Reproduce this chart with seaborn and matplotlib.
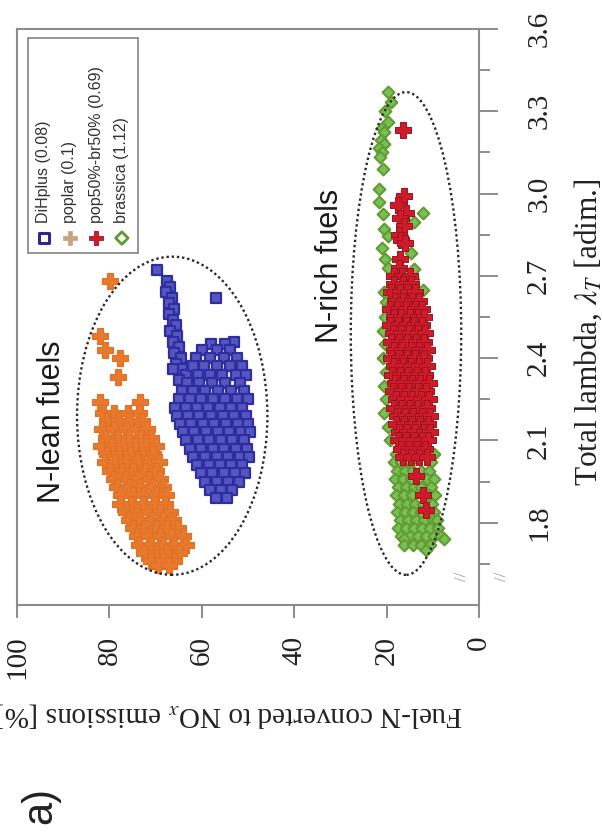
import matplotlib
matplotlib.use("Agg")
import matplotlib.pyplot as plt
from matplotlib.patches import Ellipse, Rectangle
import pandas as pd
import seaborn as sns

# ---------------- data: (total lambda [-], fuel-N converted to NOx [%]) ----------------
dihplus = [
    (2.72, 69.6), (2.62, 57.0), (2.46, 53.1),
    (2.68, 67.5), (2.66, 66.8), (2.64, 67.8), (2.62, 66.5), (2.60, 67.2), (2.58, 66.0),
    (2.56, 67.0), (2.54, 66.3), (2.52, 65.6), (2.50, 66.8), (2.48, 65.4), (2.46, 66.2),
    (2.44, 65.0), (2.42, 66.0), (2.40, 64.6), (2.38, 65.5), (2.36, 64.2), (2.34, 63.5),
    (2.36, 66.3), (2.32, 65.0),
    (2.45, 58.0), (2.45, 55.0),
    (2.43, 60.0), (2.43, 56.8), (2.43, 53.8),
    (2.40, 61.2), (2.40, 58.2), (2.40, 55.2), (2.40, 52.4),
    (2.37, 62.0), (2.37, 59.5), (2.37, 56.8), (2.37, 53.8), (2.37, 51.2),
    (2.34, 60.8), (2.34, 58.3), (2.34, 55.6), (2.34, 52.6), (2.34, 50.4),
    (2.31, 63.2), (2.31, 60.6), (2.31, 57.8), (2.31, 55.0), (2.31, 51.8),
    (2.28, 64.3), (2.28, 62.0), (2.28, 59.2), (2.28, 56.5), (2.28, 53.6), (2.28, 50.8),
    (2.25, 65.0), (2.25, 62.6), (2.25, 60.2), (2.25, 57.6), (2.25, 55.0), (2.25, 52.4), (2.25, 50.0),
    (2.22, 65.8), (2.22, 63.4), (2.22, 61.0), (2.22, 58.6), (2.22, 56.0), (2.22, 53.6), (2.22, 51.2),
    (2.19, 65.3), (2.19, 62.9), (2.19, 60.5), (2.19, 58.0), (2.19, 55.5), (2.19, 53.0), (2.19, 50.5),
    (2.16, 64.8), (2.16, 62.3), (2.16, 59.8), (2.16, 57.3), (2.16, 54.8), (2.16, 52.2), (2.16, 49.9),
    (2.13, 64.1), (2.13, 61.6), (2.13, 59.1), (2.13, 56.6), (2.13, 54.1), (2.13, 51.6), (2.13, 49.6),
    (2.10, 63.4), (2.10, 60.9), (2.10, 58.4), (2.10, 55.9), (2.10, 53.4), (2.10, 50.9),
    (2.07, 62.6), (2.07, 60.1), (2.07, 57.6), (2.07, 55.1), (2.07, 52.6), (2.07, 50.2),
    (2.04, 61.8), (2.04, 59.3), (2.04, 56.8), (2.04, 54.3), (2.04, 51.8), (2.04, 49.8),
    (2.01, 61.0), (2.01, 58.5), (2.01, 56.0), (2.01, 53.6), (2.01, 51.2),
    (1.98, 60.2), (1.98, 57.7), (1.98, 55.2), (1.98, 52.8), (1.98, 50.6),
    (1.95, 59.2), (1.95, 56.8), (1.95, 54.3), (1.95, 52.0),
    (1.92, 58.2), (1.92, 55.8), (1.92, 53.4),
    (1.89, 57.0), (1.89, 54.5),
]

poplar = [
    (2.68, 79.8), (2.48, 82.0), (2.43, 80.9), (2.40, 77.7), (2.33, 78.1),
    (2.24, 82.0), (2.24, 73.3), (2.20, 81.3),
    (2.20, 79.0), (2.20, 76.0), (2.20, 73.5),
    (2.17, 80.5), (2.17, 78.0), (2.17, 75.5), (2.17, 73.0),
    (2.14, 81.5), (2.14, 79.0), (2.14, 76.5), (2.14, 74.0), (2.14, 71.8),
    (2.11, 80.8), (2.11, 78.2), (2.11, 75.8), (2.11, 73.2), (2.11, 71.0),
    (2.08, 81.8), (2.08, 79.5), (2.08, 77.0), (2.08, 74.5), (2.08, 72.0), (2.08, 70.0),
    (2.05, 80.5), (2.05, 78.0), (2.05, 75.5), (2.05, 73.0), (2.05, 70.5),
    (2.02, 81.0), (2.02, 78.8), (2.02, 76.3), (2.02, 73.8), (2.02, 71.3), (2.02, 69.2),
    (1.99, 79.8), (1.99, 77.3), (1.99, 74.8), (1.99, 72.3), (1.99, 70.0),
    (1.96, 79.0), (1.96, 76.5), (1.96, 74.0), (1.96, 71.5), (1.96, 69.0),
    (1.93, 78.3), (1.93, 75.8), (1.93, 73.3), (1.93, 70.8), (1.93, 68.5),
    (1.90, 77.5), (1.90, 75.0), (1.90, 72.5), (1.90, 70.0), (1.90, 67.8),
    (1.87, 77.8), (1.87, 75.3), (1.87, 72.8), (1.87, 70.3), (1.87, 68.0),
    (1.84, 76.5), (1.84, 74.0), (1.84, 71.5), (1.84, 69.0), (1.84, 66.8),
    (1.81, 75.8), (1.81, 73.3), (1.81, 70.8), (1.81, 68.3), (1.81, 66.3),
    (1.78, 75.0), (1.78, 72.5), (1.78, 70.0), (1.78, 67.5), (1.78, 65.2),
    (1.75, 74.0), (1.75, 71.5), (1.75, 69.0), (1.75, 66.5), (1.75, 64.0),
    (1.72, 73.5), (1.72, 71.0), (1.72, 68.5), (1.72, 66.0), (1.72, 63.5),
    (1.69, 72.5), (1.69, 70.0), (1.69, 67.5), (1.69, 65.0),
    (1.66, 71.0), (1.66, 68.5), (1.66, 66.0),
    (1.645, 69.5), (1.645, 67.0),
]

pop50_br50 = [
    (3.23, 16.5),
    (2.99, 16.3), (2.96, 17.5), (2.93, 15.9), (2.91, 17.0), (2.88, 16.2), (2.85, 17.3),
    (2.83, 16.9), (2.82, 16.1), (2.76, 17.0), (2.73, 17.4),
    (2.70, 18.3), (2.70, 16.6), (2.70, 15.0),
    (2.67, 18.5), (2.67, 16.5), (2.67, 14.8),
    (2.64, 19.0), (2.64, 17.2), (2.64, 15.3), (2.64, 13.8),
    (2.61, 18.2), (2.61, 16.4), (2.61, 14.5), (2.61, 12.9),
    (2.58, 19.2), (2.58, 17.5), (2.58, 15.7), (2.58, 13.8), (2.58, 12.3),
    (2.55, 18.5), (2.55, 16.8), (2.55, 15.0), (2.55, 13.2), (2.55, 11.8),
    (2.52, 19.3), (2.52, 17.6), (2.52, 15.8), (2.52, 14.0), (2.52, 12.3),
    (2.49, 18.7), (2.49, 16.9), (2.49, 15.1), (2.49, 13.3), (2.49, 11.6),
    (2.46, 19.0), (2.46, 17.3), (2.46, 15.5), (2.46, 13.7), (2.46, 12.0),
    (2.43, 18.4), (2.43, 16.6), (2.43, 14.8), (2.43, 13.0), (2.43, 11.3),
    (2.40, 19.1), (2.40, 17.4), (2.40, 15.6), (2.40, 13.8), (2.40, 12.0),
    (2.37, 18.3), (2.37, 16.5), (2.37, 14.7), (2.37, 12.9), (2.37, 11.2),
    (2.34, 18.8), (2.34, 17.1), (2.34, 15.3), (2.34, 13.5), (2.34, 11.7),
    (2.31, 18.1), (2.31, 16.3), (2.31, 14.5), (2.31, 12.7), (2.31, 10.9),
    (2.28, 18.6), (2.28, 16.9), (2.28, 15.1), (2.28, 13.3), (2.28, 11.5),
    (2.25, 17.9), (2.25, 16.2), (2.25, 14.4), (2.25, 12.6), (2.25, 10.8),
    (2.22, 18.4), (2.22, 16.7), (2.22, 14.9), (2.22, 13.1), (2.22, 11.3),
    (2.19, 17.7), (2.19, 16.0), (2.19, 14.2), (2.19, 12.4), (2.19, 10.6),
    (2.16, 18.0), (2.16, 16.3), (2.16, 14.5), (2.16, 12.7), (2.16, 11.0),
    (2.13, 17.3), (2.13, 15.6), (2.13, 13.8), (2.13, 12.0), (2.13, 10.7),
    (2.10, 17.6), (2.10, 15.9), (2.10, 14.1), (2.10, 12.3), (2.10, 11.0),
    (2.07, 16.9), (2.07, 15.2), (2.07, 13.4), (2.07, 11.6),
    (2.04, 16.5), (2.04, 14.7), (2.04, 12.9), (2.04, 11.3),
    (1.97, 13.7), (1.90, 12.1), (1.845, 11.5),
]

brassica = [
    (3.37, 19.7), (3.335, 19.1), (3.30, 20.3), (3.26, 19.7), (3.24, 21.0), (3.225, 20.6),
    (3.195, 21.3), (3.18, 20.5), (3.165, 21.7), (3.15, 20.9), (3.135, 21.5), (3.09, 20.8),
    (3.015, 21.7), (2.97, 21.6), (2.925, 20.8), (2.93, 12.1), (2.895, 14.1), (2.87, 20.6),
    (2.845, 19.7), (2.80, 20.9), (2.785, 14.8), (2.76, 20.4), (2.73, 19.7), (2.725, 14.1),
    (2.69, 14.3), (2.65, 12.2), (2.64, 20.6), (2.605, 20.1), (2.59, 19.5), (2.57, 12.6),
    (2.48, 12.1),
    (2.55, 20.4), (2.50, 20.8), (2.45, 20.3), (2.40, 20.7), (2.35, 20.2), (2.30, 20.6),
    (2.25, 20.1), (2.20, 20.5), (2.15, 19.8), (2.10, 19.2),
    (2.05, 18.0), (2.05, 16.5), (2.05, 11.0), (2.05, 9.8),
    (2.02, 18.3), (2.02, 16.8), (2.02, 15.0), (2.02, 10.3),
    (1.99, 17.8), (1.99, 16.0), (1.99, 14.2), (1.99, 12.5), (1.99, 10.8),
    (1.96, 18.2), (1.96, 16.5), (1.96, 14.8), (1.96, 11.2), (1.96, 9.8),
    (1.93, 17.5), (1.93, 15.8), (1.93, 14.0), (1.93, 12.5), (1.93, 10.3),
    (1.90, 18.0), (1.90, 16.2), (1.90, 14.5), (1.90, 10.8), (1.90, 9.5),
    (1.87, 17.3), (1.87, 15.6), (1.87, 13.8), (1.87, 12.2), (1.87, 10.2),
    (1.84, 17.8), (1.84, 16.0), (1.84, 14.3), (1.84, 12.6), (1.84, 9.8),
    (1.81, 17.0), (1.81, 15.3), (1.81, 13.6), (1.81, 11.8), (1.81, 10.0), (1.81, 9.0),
    (1.78, 17.5), (1.78, 15.8), (1.78, 14.0), (1.78, 12.3), (1.78, 10.5), (1.78, 8.8),
    (1.75, 16.8), (1.75, 15.0), (1.75, 13.2), (1.75, 11.5), (1.75, 9.7), (1.75, 8.2),
    (1.74, 16.3), (1.74, 7.6),
    (1.72, 16.2), (1.72, 14.3), (1.72, 12.5), (1.72, 10.6),
    (1.70, 11.5),
]

series_labels = ["DiHplus (0.08)", "poplar (0.1)", "pop50%-br50% (0.69)", "brassica (1.12)"]

lambda_ticks = [1.8, 2.1, 2.4, 2.7, 3.0, 3.3, 3.6]
lambda_minor_ticks = [1.65, 1.95, 2.25, 2.55, 2.85, 3.15, 3.45]
fueln_ticks = [0, 20, 40, 60, 80, 100]

# dotted regions: (fuel-N centre, lambda centre, fuel-N width, lambda height)
lean_region = (66.4, 2.19, 41.2, 1.16)
rich_region = (15.8, 2.49, 23.9, 1.76)

# ---------------- style ----------------
sns.set_style("white")
plt.rcParams["font.family"] = ["Liberation Serif", "DejaVu Serif"]
plt.rcParams["mathtext.fontset"] = "stix"

SERIF = ["Liberation Serif", "DejaVu Serif"]
SANS = ["Liberation Sans", "DejaVu Sans"]
GREY = "#8c8c8c"

blue = dict(marker="s", s=58, facecolor="#5656c0", edgecolor="#2e2ea0", linewidth=1.6)
orange = dict(marker="P", s=125, facecolor="#e8782b", edgecolor="#e07025", linewidth=0.8)
red = dict(marker="P", s=140, facecolor="#cf1a29", edgecolor="#9a1420", linewidth=0.7)
green = dict(marker="D", s=36, facecolor="#74c255", edgecolor="#659a32", linewidth=1.5)


def frame(points):
    return pd.DataFrame(points, columns=["lam", "fueln"])


fig = plt.figure(figsize=(6.03, 8.39), dpi=100)
ax = fig.add_axes([17 / 603, 1 - 605 / 839, 462 / 603, 576 / 839])

sns.scatterplot(data=frame(dihplus), x="fueln", y="lam", ax=ax, zorder=2, **blue)
sns.scatterplot(data=frame(poplar), x="fueln", y="lam", ax=ax, zorder=2, **orange)
sns.scatterplot(data=frame(brassica), x="fueln", y="lam", ax=ax, zorder=2, **green)
sns.scatterplot(data=frame(pop50_br50), x="fueln", y="lam", ax=ax, zorder=3, **red)

for cx, cy, w, h in (lean_region, rich_region):
    ax.add_patch(Ellipse((cx, cy), w, h, fill=False, linestyle=(0, (1, 1.2)),
                         linewidth=1.7, edgecolor="#2a2a2a", zorder=4))

# ---------------- axes ----------------
ax.set_xlim(100, 0)
ax.set_ylim(1.5, 3.6)

ax.yaxis.tick_right()
ax.yaxis.set_label_position("right")
ax.set_yticks(lambda_ticks, [f"{t:.1f}" for t in lambda_ticks],
              rotation=90, va="center", ha="left", fontsize=21, family=SERIF)
ax.set_yticks(lambda_minor_ticks, minor=True)
ax.set_xticks(fueln_ticks, [str(t) for t in fueln_ticks],
              rotation=90, va="top", ha="center", fontsize=21, family=SERIF)

ax.tick_params(axis="y", which="major", direction="out", length=14, width=1.4,
               color=GREY, pad=20, right=True, left=False, labelcolor="#222222")
ax.tick_params(axis="y", which="minor", direction="out", length=8, width=1.4,
               color=GREY, right=True, left=False)
ax.tick_params(axis="x", which="major", direction="out", length=9, width=1.4,
               color=GREY, pad=13, bottom=True, labelcolor="#222222")

for spine in ax.spines.values():
    spine.set_color(GREY)
    spine.set_linewidth(1.5)

ax.set_xlabel(r"Fuel-N converted to NO$_x$ emissions [%]", fontsize=21,
              family=SERIF, rotation=180, color="#222222")
ax.xaxis.set_label_coords(0.459, -0.191)
ax.xaxis.label.set_va("center")
ax.xaxis.label.set_ha("center")

ax.set_ylabel(r"Total lambda, $\lambda_T$ [adim.]", fontsize=22.5,
              family=SERIF, rotation=90, color="#222222")
ax.yaxis.set_label_coords(1.236, 0.474)
ax.yaxis.label.set_va("center")
ax.yaxis.label.set_ha("center")

# axis-break marks near the lambda origin
for bx in (0.963, 1.05):
    ax.text(bx, 0.049, "//", transform=ax.transAxes, rotation=90, fontsize=12,
            color="#9a9a9a", ha="center", va="center", clip_on=False)

# region labels
ax.text(0.0758, 0.318, "N-lean fuels", transform=ax.transAxes, rotation=90,
        fontsize=22, family=SANS, ha="center", va="center", color="#1a1a1a")
ax.text(0.677, 0.589, "N-rich fuels", transform=ax.transAxes, rotation=90,
        fontsize=22, family=SANS, ha="center", va="center", color="#1a1a1a")

# ---------------- legend (rotated with the chart) ----------------
ax.add_patch(Rectangle((0.0238, 0.611), 0.2382, 0.373, transform=ax.transAxes,
                       facecolor="white", edgecolor=GREY, linewidth=1.3, zorder=5))
legend_x = [0.0584, 0.1147, 0.171, 0.227]
legend_styles = [
    dict(marker="s", s=55, facecolor="none", edgecolor="#2a2a8a", linewidth=2.2),
    dict(marker="P", s=110, facecolor="#c9a27f", edgecolor="#c9a27f", linewidth=0.5),
    dict(marker="P", s=110, facecolor="#d01b2a", edgecolor="#9c1420", linewidth=0.6),
    dict(marker="D", s=40, facecolor="none", edgecolor="#5f9a2e", linewidth=2.0),
]
for lx, label, style in zip(legend_x, series_labels, legend_styles):
    ax.scatter([lx], [0.637], transform=ax.transAxes, zorder=6, clip_on=False, **style)
    ax.text(lx, 0.663, label, transform=ax.transAxes, rotation=90, fontsize=11.5,
            family=SANS, ha="center", va="bottom", color="#333333", zorder=6)

fig.text(40 / 603, 1 - 805 / 839, "a)", rotation=90, fontsize=30, family=SANS,
         ha="center", va="center", color="#222222")

fig.savefig("out.png", dpi=100)
